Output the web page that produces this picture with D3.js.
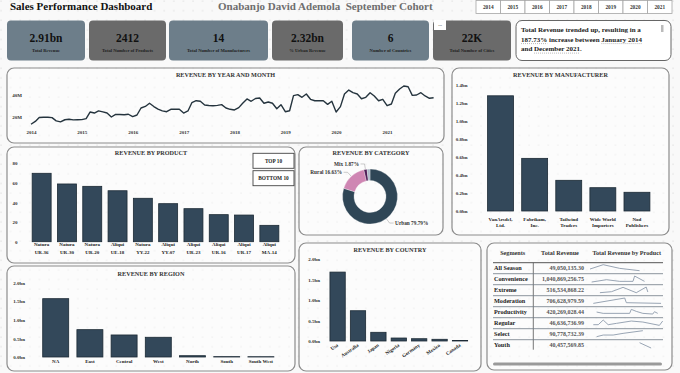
<!DOCTYPE html>
<html>
<head>
<meta charset="utf-8">
<script src="https://cdn.jsdelivr.net/npm/d3@7"></script>
<style>
  body { margin: 0; background: #f9f9f9; }
  svg text { font-family: "Liberation Serif", "DejaVu Serif", serif; font-weight: bold; }
</style>
</head>
<body>
<div id="chart"></div>
<script>
// ---- data ----
const years = ["2014", "2015", "2016", "2017", "2018", "2019", "2020", "2021"];

const kpiValues = ["2.91bn", "2412", "14", "2.32bn", "6", "22K"];
const kpiLabels = ["Total Revenue", "Total Number of Products", "Total Number of Manufacturers",
                   "% Urban Revenue", "Number of Countries", "Total Number of Cities"];

// monthly revenue, millions, Jan 2014 .. Dec 2021
const monthlyRevenue = [
  13.4, 16.0, 19.6, 19.8, 19.8, 19.4, 16.5, 15.6, 17.5, 17.9, 17.4, 17.5,
  17.6, 18.5, 24.5, 23.6, 25.6, 24.6, 23.6, 20.0, 22.4, 22.3, 22.1, 22.5,
  20.3, 21.8, 28.2, 29.6, 32.5, 29.5, 27.2, 25.6, 24.8, 27.0, 27.2, 27.0,
  23.6, 25.5, 33.0, 34.8, 34.3, 30.9, 30.5, 30.2, 30.6, 31.2, 28.2, 27.0,
  26.4, 28.5, 32.5, 36.4, 34.3, 36.8, 37.3, 32.5, 33.6, 32.5, 27.5, 31.2,
  24.8, 25.7, 39.4, 40.3, 37.9, 40.9, 36.1, 34.8, 34.8, 34.8, 31.5, 34.3,
  24.5, 29.4, 40.9, 44.5, 42.1, 40.9, 36.6, 37.9, 42.1, 39.1, 34.8, 36.1,
  30.3, 31.8, 41.5, 45.5, 48.2, 47.5, 39.7, 40.0, 42.1, 39.1, 37.0, 37.5
];

const products = ["Natura UR-36", "Natura UR-30", "Natura UR-20", "Aliqui UE-18", "Natura YY-22",
                  "Aliqui YY-07", "Aliqui UR-23", "Aliqui UR-16", "Aliqui UR-17", "Aliqui MA-14"];
const productRevenue = [69.8, 58.9, 56.5, 52.0, 44.3, 38.8, 33.7, 27.6, 27.2, 16.7];

const categories = ["Urban", "Rural", "Mix", "Other"];
const categoryShare = [79.79, 16.63, 1.87, 1.71];

const manufacturers = ["VanArsdel, Ltd.", "Fabrikam, Inc.", "Tailwind Traders", "Wide World Importers", "Nod Publishers"];
const manufacturerRevenue = [1.28, 0.585, 0.341, 0.259, 0.208];

const regions = ["NA", "East", "Central", "West", "North", "South", "South West"];
const regionRevenue = [1.57, 0.736, 0.593, 0.531, 0.035, 0.01, 0.008];

const countries = ["Usa", "Australia", "Japan", "Nigeria", "Germany", "Mexico", "Canada"];
const countryRevenue = [1.687, 0.741, 0.213, 0.073, 0.056, 0.042, 0.012];

const segments = ["All Season", "Convenience", "Extreme", "Moderation", "Productivity", "Regular", "Select", "Youth"];
const segmentRevenue = ["49,050,135.30", "1,040,869,256.75", "516,534,868.22", "706,628,979.59",
                        "420,269,028.44", "46,636,736.99", "90,778,732.39", "40,457,569.85"];
// sparkline points: [product index, relative revenue]
const sparkAllSeason   = [[0, 14], [8, 27], [18, 16], [30, 9]];
const sparkConvenience = [[1, 8], [10, 15], [18, 10], [26, 10], [27, 26], [33, 10]];
const sparkExtreme     = [[6, 9], [13, 12], [20, 25], [28, 9], [34, 26], [35, 11]];
const sparkModeration  = [[2, 10], [21, 26], [22, 12], [43, 10]];
const sparkProductivity = [[4, 17], [8, 13], [24, 13], [25, 25], [28, 19], [32, 13], [38, 11], [39, 18], [41, 13]];
const sparkRegular     = [[2, 12], [5, 12], [8, 26], [11, 12], [16, 16], [25, 23], [32, 20], [42, 10], [44, 23]];
const sparkSelect      = [[4, 9], [8, 14], [14, 14], [20, 19], [32, 27]];
const sparkYouth       = [[30, 24], [37, 8]];
const segmentSparks = [sparkAllSeason, sparkConvenience, sparkExtreme, sparkModeration,
                       sparkProductivity, sparkRegular, sparkSelect, sparkYouth];

// ---- drawing ----
const W = 680, H = 373;
const barFill = "#33485a", barStroke = "#1c2a35";

const svg = d3.select("#chart").append("svg")
    .attr("width", W)
    .attr("height", H);

// dotted canvas background
const pat = svg.append("defs").append("pattern")
    .attr("id", "dots").attr("width", 9.6).attr("height", 9.6)
    .attr("patternUnits", "userSpaceOnUse");
pat.append("circle").attr("cx", 1).attr("cy", 1).attr("r", 0.6).attr("fill", "#cfcfcf");
svg.append("rect").attr("width", W).attr("height", H).attr("fill", "#f9f9f9");
svg.append("rect").attr("width", W).attr("height", H).attr("fill", "url(#dots)");

function panel(x0, y0, x1, y1, title, dy) {
    svg.append("rect")
        .attr("x", x0).attr("y", y0)
        .attr("width", x1 - x0).attr("height", y1 - y0)
        .attr("rx", 7)
        .attr("fill", "rgba(255,255,255,0.45)")
        .attr("stroke", "#8c8c8c")
        .attr("stroke-width", 1.2);
    if (title) {
        svg.append("text")
            .attr("x", (x0 + x1) / 2).attr("y", y0 + (dy || 9))
            .attr("text-anchor", "middle")
            .attr("font-size", 6.2)
            .attr("fill", "#333")
            .text(title);
    }
}

// header
svg.append("text").attr("x", 10).attr("y", 9.5).attr("font-size", 11).attr("fill", "#111")
    .text("Sales Performance Dashboard");
svg.append("text").attr("x", 218).attr("y", 9.5).attr("font-size", 11).attr("fill", "#6e6e6e")
    .attr("xml:space", "preserve")
    .text("Onabanjo David Ademola  September Cohort");

// year slicer
const yearX = d3.scaleBand().domain(years).range([476, 672]);
const slicer = svg.append("g");
slicer.selectAll("rect").data(years).join("rect")
    .attr("x", d => yearX(d)).attr("y", 0.5)
    .attr("width", yearX.bandwidth()).attr("height", 13)
    .attr("fill", "#fff").attr("stroke", "#a5a5a5").attr("stroke-width", 0.8);
slicer.selectAll("text").data(years).join("text")
    .attr("x", d => yearX(d) + yearX.bandwidth() / 2).attr("y", 9.2)
    .attr("text-anchor", "middle").attr("font-size", 5.3).attr("fill", "#333")
    .text(d => d);

// KPI cards
const cardX = [[7, 85], [89, 166], [169, 268], [272, 343], [352, 429], [433, 511]];
kpiValues.forEach((v, i) => {
    const [a, b] = cardX[i];
    svg.append("rect").attr("x", a).attr("y", 20.5).attr("width", b - a).attr("height", 40)
        .attr("rx", 4).attr("fill", i % 2 === 0 ? "#6d7e8a" : "#6a6a6a");
    svg.append("text").attr("x", (a + b) / 2).attr("y", 41.5).attr("text-anchor", "middle")
        .attr("font-size", 11.5).attr("fill", "#111").text(v);
    svg.append("text").attr("x", (a + b) / 2).attr("y", 51.5).attr("text-anchor", "middle")
        .attr("font-size", 4.6).attr("font-weight", "normal").attr("fill", "#1e1e1e").text(kpiLabels[i]);
});
// little "..." tab on last card
svg.append("rect").attr("x", 434).attr("y", 20).attr("width", 12).attr("height", 10).attr("fill", "#fff");
svg.append("text").attr("x", 440).attr("y", 26).attr("text-anchor", "middle").attr("font-size", 5)
    .attr("fill", "#555").text("...");

// smart narrative box
svg.append("rect").attr("x", 516).attr("y", 20.5).attr("width", 155).attr("height", 40)
    .attr("rx", 6).attr("fill", "#fff").attr("stroke", "#666").attr("stroke-width", 1);
svg.append("rect").attr("x", 661).attr("y", 25).attr("width", 2.5).attr("height", 7).attr("fill", "#bbb");
const narr = [
    [["Total Revenue trended up, resulting in a", false]],
    [["187.73%", true], [" increase between ", false], ["January 2014", true]],
    [["and ", false], ["December 2021", true], [".", false]]
];
narr.forEach((line, i) => {
    const y = 32.3 + i * 9.5;
    const t = svg.append("text").attr("x", 521).attr("y", y)
        .attr("font-size", 7).attr("fill", "#1b1b1b").attr("xml:space", "preserve");
    const spans = line.map(([s, u]) => [t.append("tspan").text(s), u]);
    let off = 521;
    spans.forEach(([sp, u]) => {
        const len = sp.node().getComputedTextLength();
        if (u) {
            svg.append("line").attr("x1", off).attr("x2", off + len)
                .attr("y1", y + 1.8).attr("y2", y + 1.8)
                .attr("stroke", "#8a8a8a").attr("stroke-width", 0.6)
                .attr("stroke-dasharray", "1,1");
        }
        off += len;
    });
});

// ---- revenue by year and month ----
panel(7, 68, 444, 143, "REVENUE BY YEAR AND MONTH", 8.7);
const months = monthlyRevenue.map((v, i) => new Date(2014, i, 1));
const xTime = d3.scaleTime().domain([new Date(2014, 0, 1), new Date(2021, 11, 1)]).range([31, 433.6]);
const yLine = d3.scaleLinear().domain([20, 40]).range([117, 95]);

const xAxisT = svg.append("g").attr("transform", "translate(0,130)")
    .call(d3.axisBottom(xTime).tickValues(years.map(y => new Date(+y, 0, 1)))
        .tickFormat(d3.timeFormat("%Y")).tickSize(0).tickPadding(0));
xAxisT.select(".domain").remove();
xAxisT.attr("font-family", null).attr("font-size", 5).attr("color", "#333");
xAxisT.selectAll("text").attr("dy", "0.71em");

const yAxisL = svg.append("g").attr("transform", "translate(22,0)")
    .call(d3.axisLeft(yLine).tickValues([20, 40]).tickFormat(d => d + "M").tickSize(0).tickPadding(0));
yAxisL.select(".domain").remove();
yAxisL.attr("font-family", null).attr("font-size", 5).attr("color", "#333");

svg.append("path")
    .datum(monthlyRevenue)
    .attr("fill", "none")
    .attr("stroke", "#25343e")
    .attr("stroke-width", 1.4)
    .attr("stroke-linejoin", "round")
    .attr("d", d3.line().x((d, i) => xTime(months[i])).y(d => yLine(d)));

// ---- generic bar chart ----
function barChart(cfg) {
    const x = d3.scaleBand().domain(cfg.names).range(cfg.xRange)
        .paddingInner(cfg.pad).paddingOuter(cfg.pad / 2);
    const y = d3.scaleLinear().domain(cfg.yDomain).range(cfg.yRange);
    const g = svg.append("g");

    g.selectAll("rect").data(cfg.values).join("rect")
        .attr("x", (d, i) => x(cfg.names[i]))
        .attr("y", d => y(d))
        .attr("width", x.bandwidth())
        .attr("height", d => y(0) - y(d))
        .attr("fill", barFill)
        .attr("stroke", barStroke)
        .attr("stroke-width", 0.8);

    const ya = g.append("g").attr("transform", `translate(${cfg.yAxisX},0)`)
        .call(d3.axisLeft(y).tickValues(cfg.ticks).tickFormat(cfg.fmt).tickSize(0).tickPadding(0));
    ya.select(".domain").remove();
    ya.attr("font-family", null).attr("font-size", 5).attr("color", "#333");
    return { x, y, g };
}

function twoLineLabels(chart, names, y1, y2, size) {
    names.forEach(n => {
        const k = n.lastIndexOf(" ");
        const parts = k > 0 ? [n.slice(0, k), n.slice(k + 1)] : [n];
        const cx = chart.x(n) + chart.x.bandwidth() / 2;
        parts.forEach((p, j) => {
            svg.append("text").attr("x", cx).attr("y", j === 0 ? y1 : y2)
                .attr("text-anchor", "middle").attr("font-size", size).attr("fill", "#222").text(p);
        });
    });
}

// ---- revenue by product ----
panel(7, 147, 295, 263, "REVENUE BY PRODUCT", 8.3);
const prodChart = barChart({
    names: products, values: productRevenue,
    xRange: [29, 282], pad: 0.25,
    yDomain: [0, 80], yRange: [241.7, 163.3],
    ticks: [0, 20, 40, 60, 80], fmt: d3.format("d"), yAxisX: 17.5
});
twoLineLabels(prodChart, products, 246, 253.6, 5);

// top / bottom buttons
[["TOP 10", 153.3], ["BOTTOM 10", 170.7]].forEach(([t, y0]) => {
    svg.append("rect").attr("x", 253).attr("y", y0).attr("width", 41).attr("height", 15)
        .attr("fill", "#fff").attr("stroke", "#444").attr("stroke-width", 0.9);
    svg.append("text").attr("x", 273.5).attr("y", y0 + 9.5).attr("text-anchor", "middle")
        .attr("font-size", 5.3).attr("fill", "#222").text(t);
});

// ---- revenue by category (donut) ----
panel(299, 147, 443, 235, "REVENUE BY CATEGORY", 8);
const cx = 370, cy = 196.5, R = 27.5, r0 = 16;
const catColors = ["#2f4656", "#cf86b3", "#4f1d57", "#a9b7c6"];
const pie = d3.pie().sort(null).value(d => d)(categoryShare);
const arc = d3.arc().innerRadius(r0).outerRadius(R);
const dg = svg.append("g").attr("transform", `translate(${cx},${cy})`);
dg.selectAll("path").data(pie).join("path")
    .attr("d", arc)
    .attr("fill", (d, i) => catColors[i])
    .attr("stroke", "#fff").attr("stroke-width", 0.3);

pie.slice(0, 3).forEach((d, i) => {
    const a = (d.startAngle + d.endAngle) / 2;
    const p1 = [Math.sin(a) * (R + 0.5), -Math.cos(a) * (R + 0.5)];
    const p2 = [Math.sin(a) * 33, -Math.cos(a) * 33];
    const right = Math.sin(a) > 0;
    const p3 = [p2[0] + (right ? 4 : -4), p2[1]];
    dg.append("polyline").attr("points", [p1, p2, p3].map(p => p.join(",")).join(" "))
        .attr("fill", "none").attr("stroke", "#999").attr("stroke-width", 0.5);
    dg.append("text")
        .attr("x", p3[0] + (right ? 1.5 : -1.5)).attr("y", p3[1])
        .attr("dy", "0.35em")
        .attr("text-anchor", right ? "start" : "end")
        .attr("font-size", 5.3).attr("fill", "#333")
        .text(`${categories[i]} ${categoryShare[i].toFixed(2)}%`);
});

// ---- revenue by manufacturer ----
panel(452, 68, 669, 235, "REVENUE BY MANUFACTURER", 9);
const manChart = barChart({
    names: manufacturers, values: manufacturerRevenue,
    xRange: [483.5, 654], pad: 0.24,
    yDomain: [0, 1.4], yRange: [211, 85],
    ticks: d3.range(0, 1.41, 0.2), fmt: d => d.toFixed(1) + "bn", yAxisX: 467.5
});
twoLineLabels(manChart, manufacturers, 220.8, 227.4, 5);

// ---- revenue by region ----
panel(7, 266, 295, 371, "REVENUE BY REGION", 9.8);
const regChart = barChart({
    names: regions, values: regionRevenue,
    xRange: [38.6, 278], pad: 0.24,
    yDomain: [0, 2], yRange: [357, 282.7],
    ticks: [0, 0.5, 1, 1.5, 2], fmt: d => d.toFixed(1) + "bn", yAxisX: 25
});
regions.forEach(n => {
    svg.append("text").attr("x", regChart.x(n) + regChart.x.bandwidth() / 2).attr("y", 363)
        .attr("text-anchor", "middle").attr("font-size", 5).attr("fill", "#222").text(n);
});

// ---- revenue by country ----
panel(299, 243, 481, 371, "REVENUE BY COUNTRY", 8.5);
const ctyChart = barChart({
    names: countries, values: countryRevenue,
    xRange: [327.4, 470.2], pad: 0.25,
    yDomain: [0, 2], yRange: [341, 259.3],
    ticks: [0, 0.5, 1, 1.5, 2], fmt: d => d.toFixed(1) + "bn", yAxisX: 320
});
countries.forEach(n => {
    const tx = ctyChart.x(n) + ctyChart.x.bandwidth() / 2 + 1;
    svg.append("text")
        .attr("transform", `translate(${tx},346) rotate(-35)`)
        .attr("text-anchor", "end").attr("font-size", 5).attr("fill", "#222").text(n);
});

// ---- segments table ----
panel(487, 243, 672, 370, null);
const rowTop = 262.7, rowH = 11;
svg.append("text").attr("x", 512.7).attr("y", 254.6).attr("text-anchor", "middle")
    .attr("font-size", 6.2).attr("fill", "#333").text("Segments");
svg.append("text").attr("x", 560).attr("y", 254.6).attr("text-anchor", "middle")
    .attr("font-size", 6.2).attr("fill", "#333").text("Total Revenue");
svg.append("text").attr("x", 626.7).attr("y", 254.6).attr("text-anchor", "middle")
    .attr("font-size", 6.2).attr("fill", "#333").text("Total Revenue by Product");

svg.append("line").attr("x1", 493).attr("x2", 663).attr("y1", rowTop).attr("y2", rowTop)
    .attr("stroke", "#555").attr("stroke-width", 1);
svg.append("line").attr("x1", 533.3).attr("x2", 533.3).attr("y1", rowTop).attr("y2", rowTop + rowH * 8 - 1)
    .attr("stroke", "#555").attr("stroke-width", 0.8);

const sx = d3.scaleLinear().domain([0, 44]).range([590, 662.7]);
const sy = d3.scaleLinear().domain([0, 30]).range([0, 10]);

segments.forEach((s, i) => {
    const top = rowTop + i * rowH;
    if (i < segments.length - 1) {
        svg.append("line").attr("x1", 493).attr("x2", 663).attr("y1", top + rowH).attr("y2", top + rowH)
            .attr("stroke", "#6f7a84").attr("stroke-width", 0.8);
    }
    svg.append("text").attr("x", 494).attr("y", top + 7.6)
        .attr("font-size", 6.2).attr("fill", "#222").text(s);
    svg.append("text").attr("x", 584).attr("y", top + 7.6).attr("text-anchor", "end")
        .attr("font-size", 6).attr("font-weight", "normal").attr("fill", "#555").text(segmentRevenue[i]);
    svg.append("path")
        .datum(segmentSparks[i])
        .attr("fill", "none")
        .attr("stroke", "#8d9bab")
        .attr("stroke-width", 0.9)
        .attr("d", d3.line().x(d => sx(d[0])).y(d => top + rowH - sy(d[1])));
});

// horizontal scroll bar
svg.append("rect").attr("x", 493).attr("y", 362.5).attr("width", 169).attr("height", 3)
    .attr("rx", 1.5).attr("fill", "#9a9a9a");
</script>
</body>
</html>
